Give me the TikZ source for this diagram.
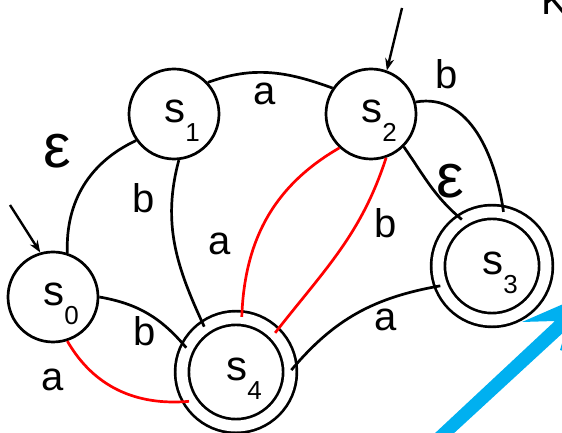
\documentclass[tikz,border=0pt]{standalone}
\usepackage{fontspec}
\setmainfont{Liberation Sans}
\usetikzlibrary{arrows.meta}
\definecolor{skyblue}{RGB}{0,176,240}
\newcommand{\statetext}[1]{\raisebox{-9pt}[0pt][0pt]{\hspace*{16pt}s\raisebox{-19pt}{\fontsize{26}{26}\selectfont #1}}}

\begin{document}
\begin{tikzpicture}[x=1pt,y=1pt]
\tikzset{
  statenode/.style={circle,draw,line width=2.7pt,minimum size=90pt,inner sep=0pt,font=\fontsize{42}{42}\selectfont},
  finalnode/.style={statenode,double,double distance=11pt,minimum size=108pt},
  edgelabel/.style={inner sep=0pt,font=\fontsize{40}{40}\selectfont},
  epslabel/.style={inner sep=0pt,font=\fontsize{62}{62}\selectfont},
  transition/.style={line width=2.7pt},
  redtransition/.style={transition,red},
  initarrow/.style={-{Stealth[length=12pt,width=9pt]},line width=2.4pt}
}
\useasboundingbox (0,0) rectangle (562,433);
\clip (0,0) rectangle (562,433);
\node[statenode] (n_s0) at (53,136) {\statetext{0}};
\node[statenode] (n_s1) at (174,319) {\statetext{1}};
\node[statenode] (n_s2) at (371,319) {\statetext{2}};
\node[finalnode] (n_s3) at (492,167) {\statetext{3}};
\node[finalnode] (n_s4) at (236,61) {\statetext{4}};
% start arrows
\coordinate (init_s0) at (10,228);
\coordinate (init_s2) at (402,425);
\draw[initarrow] (init_s0) -- (n_s0.106);
\draw[initarrow] (init_s2) -- (n_s2.70);
% transitions
\draw[transition] (n_s0.72) to[out=92,in=205] (n_s1.215);
\draw[transition] (n_s0.0) to[out=-10,in=130] (n_s4.154);
\draw[redtransition] (n_s0.-72) to[out=-60,in=185] (n_s4.212);
\draw[transition] (n_s1.43) to[out=20,in=160] (n_s2.146);
\draw[transition] (n_s1.-84) to[out=-105,in=115] (n_s4.125);
\draw[redtransition] (n_s2.227) to[out=210,in=88] (n_s4.84);
\draw[redtransition] (n_s2.-71) to[out=-108,in=52] (n_s4.45);
\draw[transition] (n_s2.-45) to[out=-55,in=140] (n_s3.123);
\draw[transition] (n_s2.15) to[out=10,in=98] (n_s3.78);
\draw[transition] (n_s4.2) to[out=50,in=190] (n_s3.201);
% labels
\node[epslabel] (l_s0s1) at (57,282) {ε};
\node[edgelabel] (l_s1s2) at (265,339) {a};
\node[edgelabel] (l_s1s4) at (144,235) {b};
\node[edgelabel] (l_s2s4a) at (220,189) {a};
\node[edgelabel] (l_s2s4b) at (386,210) {b};
\node[epslabel] (l_s2s3e) at (450,252) {ε};
\node[edgelabel] (l_s2s3b) at (447,359) {b};
\node[edgelabel] (l_s4s3) at (386,113) {a};
\node[edgelabel] (l_s0s4b) at (145,102) {b};
\node[edgelabel] (l_s0s4a) at (53,53) {a};
% slide fragments
\node[edgelabel,anchor=base west] (l_frag) at (541,418) {K};
\fill[skyblue] (433,-2) -- (555,112) -- (522,111) -- (600,145) -- (575,78)
  -- (560,83) -- (566,103) -- (452,-2) -- cycle;
\end{tikzpicture}
\end{document}
